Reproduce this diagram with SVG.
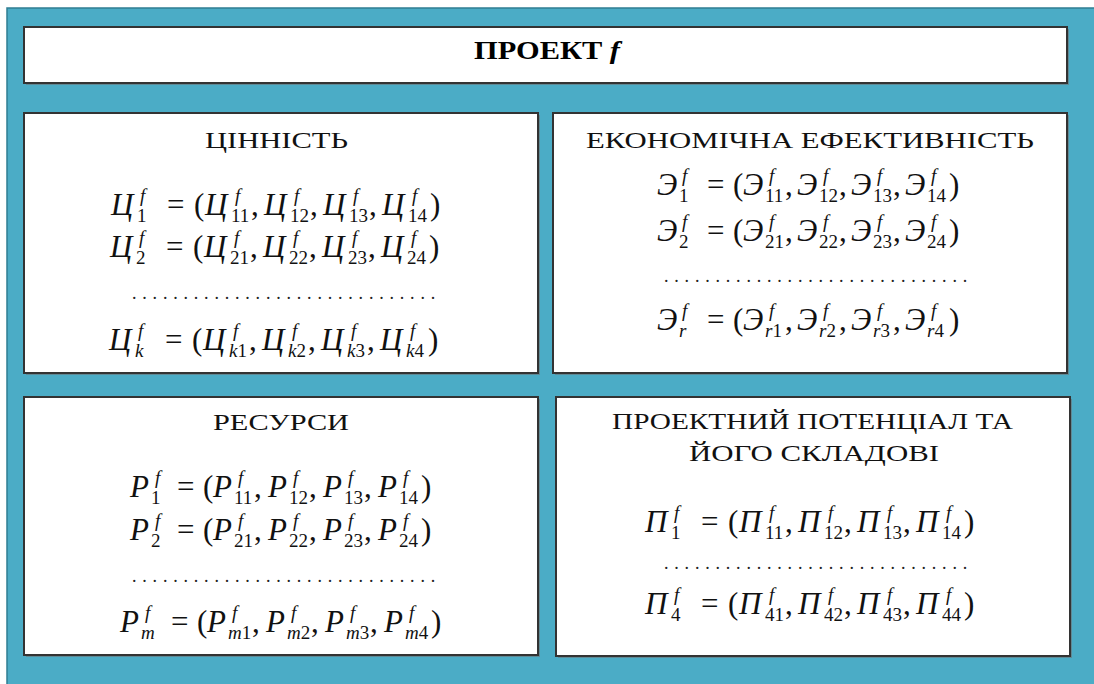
<svg xmlns="http://www.w3.org/2000/svg" width="1094" height="684" viewBox="0 0 1094 684">
<style>
.box{fill:#ffffff;stroke:#333333;stroke-width:2}
.shd{fill:#6f6f6f;opacity:0.55}
.hd{font-family:"Liberation Serif","Times New Roman",serif;font-size:23px;fill:#111}
.ttl{font-family:"Liberation Serif","Times New Roman",serif;font-size:26px;font-weight:bold;fill:#000}
.m{font-family:"Liberation Serif","Times New Roman",serif;font-size:31px;fill:#111}
.i{font-style:italic}
.sb{font-size:19px}
.sp{font-size:19px;font-style:italic}
.dots{font-family:"Liberation Serif","Times New Roman",serif;font-size:18px;letter-spacing:5.8px;fill:#222}
</style>
<rect x="0" y="0" width="1094" height="684" fill="#ffffff"/>
<rect x="7" y="8" width="1092" height="682" fill="#4bacc6" stroke="#2f7d92" stroke-width="1.5"/>

<g id="node-title">
<rect class="shd" x="26" y="29" width="1043" height="56"/>
<rect class="box" x="24" y="27" width="1043" height="56"/>
<text class="ttl" x="474" y="59" textLength="146" lengthAdjust="spacingAndGlyphs">ПРОЕКТ <tspan font-style="italic">f</tspan></text>
</g>

<g id="node-value">
<rect class="shd" x="26" y="115" width="514" height="260"/>
<rect class="box" x="24" y="113" width="514" height="260"/>
<text class="hd" x="205" y="148" textLength="143" lengthAdjust="spacingAndGlyphs">ЦІННІСТЬ</text>
<g transform="translate(111,215)"><text class="m"><tspan class="i" x="0" y="0">Ц</tspan><tspan class="sb" x="26" y="7">1</tspan><tspan class="sp" x="29" y="-13">f</tspan><tspan x="56" y="0">=</tspan><tspan x="83" y="0">(</tspan><tspan class="i" x="94" y="0">Ц</tspan><tspan class="sb" x="120" y="7">11</tspan><tspan class="sp" x="124" y="-13">f</tspan><tspan x="140" y="0">,</tspan><tspan class="i" x="153" y="0">Ц</tspan><tspan class="sb" x="179" y="7">12</tspan><tspan class="sp" x="183" y="-13">f</tspan><tspan x="199" y="0">,</tspan><tspan class="i" x="212" y="0">Ц</tspan><tspan class="sb" x="238" y="7">13</tspan><tspan class="sp" x="242" y="-13">f</tspan><tspan x="258" y="0">,</tspan><tspan class="i" x="271" y="0">Ц</tspan><tspan class="sb" x="297" y="7">14</tspan><tspan class="sp" x="301" y="-13">f</tspan><tspan x="319" y="0">)</tspan></text></g>
<g transform="translate(110,257)"><text class="m"><tspan class="i" x="0" y="0">Ц</tspan><tspan class="sb" x="26" y="7">2</tspan><tspan class="sp" x="29" y="-13">f</tspan><tspan x="56" y="0">=</tspan><tspan x="83" y="0">(</tspan><tspan class="i" x="94" y="0">Ц</tspan><tspan class="sb" x="120" y="7">21</tspan><tspan class="sp" x="124" y="-13">f</tspan><tspan x="140" y="0">,</tspan><tspan class="i" x="153" y="0">Ц</tspan><tspan class="sb" x="179" y="7">22</tspan><tspan class="sp" x="183" y="-13">f</tspan><tspan x="199" y="0">,</tspan><tspan class="i" x="212" y="0">Ц</tspan><tspan class="sb" x="238" y="7">23</tspan><tspan class="sp" x="242" y="-13">f</tspan><tspan x="258" y="0">,</tspan><tspan class="i" x="271" y="0">Ц</tspan><tspan class="sb" x="297" y="7">24</tspan><tspan class="sp" x="301" y="-13">f</tspan><tspan x="319" y="0">)</tspan></text></g>
<text class="dots" x="132" y="299">..............................</text>
<g transform="translate(109,350)"><text class="m"><tspan class="i" x="0" y="0">Ц</tspan><tspan class="sb i" x="26" y="7">k</tspan><tspan class="sp" x="29" y="-13">f</tspan><tspan x="56" y="0">=</tspan><tspan x="83" y="0">(</tspan><tspan class="i" x="94" y="0">Ц</tspan><tspan class="sb" x="120" y="7"><tspan class="i">k</tspan>1</tspan><tspan class="sp" x="124" y="-13">f</tspan><tspan x="140" y="0">,</tspan><tspan class="i" x="153" y="0">Ц</tspan><tspan class="sb" x="179" y="7"><tspan class="i">k</tspan>2</tspan><tspan class="sp" x="183" y="-13">f</tspan><tspan x="199" y="0">,</tspan><tspan class="i" x="212" y="0">Ц</tspan><tspan class="sb" x="238" y="7"><tspan class="i">k</tspan>3</tspan><tspan class="sp" x="242" y="-13">f</tspan><tspan x="258" y="0">,</tspan><tspan class="i" x="271" y="0">Ц</tspan><tspan class="sb" x="297" y="7"><tspan class="i">k</tspan>4</tspan><tspan class="sp" x="301" y="-13">f</tspan><tspan x="319" y="0">)</tspan></text></g>
</g>

<g id="node-efficiency">
<rect class="shd" x="555" y="115" width="514" height="260"/>
<rect class="box" x="553" y="113" width="514" height="260"/>
<text class="hd" x="586" y="148" textLength="448" lengthAdjust="spacingAndGlyphs">ЕКОНОМІЧНА ЕФЕКТИВНІСТЬ</text>
<g transform="translate(657,195)"><text class="m"><tspan class="i" x="0" y="0">Э</tspan><tspan class="sb" x="22" y="7">1</tspan><tspan class="sp" x="25" y="-13">f</tspan><tspan x="50" y="0">=</tspan><tspan x="76" y="0">(</tspan><tspan class="i" x="86" y="0">Э</tspan><tspan class="sb" x="108" y="7">11</tspan><tspan class="sp" x="112" y="-13">f</tspan><tspan x="128" y="0">,</tspan><tspan class="i" x="140" y="0">Э</tspan><tspan class="sb" x="162" y="7">12</tspan><tspan class="sp" x="166" y="-13">f</tspan><tspan x="182" y="0">,</tspan><tspan class="i" x="194" y="0">Э</tspan><tspan class="sb" x="216" y="7">13</tspan><tspan class="sp" x="220" y="-13">f</tspan><tspan x="236" y="0">,</tspan><tspan class="i" x="248" y="0">Э</tspan><tspan class="sb" x="270" y="7">14</tspan><tspan class="sp" x="274" y="-13">f</tspan><tspan x="292" y="0">)</tspan></text></g>
<g transform="translate(657,241)"><text class="m"><tspan class="i" x="0" y="0">Э</tspan><tspan class="sb" x="22" y="7">2</tspan><tspan class="sp" x="25" y="-13">f</tspan><tspan x="50" y="0">=</tspan><tspan x="76" y="0">(</tspan><tspan class="i" x="86" y="0">Э</tspan><tspan class="sb" x="108" y="7">21</tspan><tspan class="sp" x="112" y="-13">f</tspan><tspan x="128" y="0">,</tspan><tspan class="i" x="140" y="0">Э</tspan><tspan class="sb" x="162" y="7">22</tspan><tspan class="sp" x="166" y="-13">f</tspan><tspan x="182" y="0">,</tspan><tspan class="i" x="194" y="0">Э</tspan><tspan class="sb" x="216" y="7">23</tspan><tspan class="sp" x="220" y="-13">f</tspan><tspan x="236" y="0">,</tspan><tspan class="i" x="248" y="0">Э</tspan><tspan class="sb" x="270" y="7">24</tspan><tspan class="sp" x="274" y="-13">f</tspan><tspan x="292" y="0">)</tspan></text></g>
<text class="dots" x="664" y="282">..............................</text>
<g transform="translate(657,330)"><text class="m"><tspan class="i" x="0" y="0">Э</tspan><tspan class="sb i" x="22" y="7">r</tspan><tspan class="sp" x="25" y="-13">f</tspan><tspan x="50" y="0">=</tspan><tspan x="76" y="0">(</tspan><tspan class="i" x="86" y="0">Э</tspan><tspan class="sb" x="108" y="7"><tspan class="i">r</tspan>1</tspan><tspan class="sp" x="112" y="-13">f</tspan><tspan x="128" y="0">,</tspan><tspan class="i" x="140" y="0">Э</tspan><tspan class="sb" x="162" y="7"><tspan class="i">r</tspan>2</tspan><tspan class="sp" x="166" y="-13">f</tspan><tspan x="182" y="0">,</tspan><tspan class="i" x="194" y="0">Э</tspan><tspan class="sb" x="216" y="7"><tspan class="i">r</tspan>3</tspan><tspan class="sp" x="220" y="-13">f</tspan><tspan x="236" y="0">,</tspan><tspan class="i" x="248" y="0">Э</tspan><tspan class="sb" x="270" y="7"><tspan class="i">r</tspan>4</tspan><tspan class="sp" x="274" y="-13">f</tspan><tspan x="292" y="0">)</tspan></text></g>
</g>

<g id="node-resources">
<rect class="shd" x="26" y="399" width="514" height="258"/>
<rect class="box" x="24" y="397" width="514" height="258"/>
<text class="hd" x="213" y="430" textLength="136" lengthAdjust="spacingAndGlyphs">РЕСУРСИ</text>
<g transform="translate(130,497)"><text class="m"><tspan class="i" x="0" y="0">P</tspan><tspan class="sb" x="21" y="7">1</tspan><tspan class="sp" x="25" y="-13">f</tspan><tspan x="47" y="0">=</tspan><tspan x="73" y="0">(</tspan><tspan class="i" x="83" y="0">P</tspan><tspan class="sb" x="104" y="7">11</tspan><tspan class="sp" x="108" y="-13">f</tspan><tspan x="124" y="0">,</tspan><tspan class="i" x="138" y="0">P</tspan><tspan class="sb" x="159" y="7">12</tspan><tspan class="sp" x="163" y="-13">f</tspan><tspan x="179" y="0">,</tspan><tspan class="i" x="193" y="0">P</tspan><tspan class="sb" x="214" y="7">13</tspan><tspan class="sp" x="218" y="-13">f</tspan><tspan x="234" y="0">,</tspan><tspan class="i" x="248" y="0">P</tspan><tspan class="sb" x="269" y="7">14</tspan><tspan class="sp" x="273" y="-13">f</tspan><tspan x="291" y="0">)</tspan></text></g>
<g transform="translate(130,540)"><text class="m"><tspan class="i" x="0" y="0">P</tspan><tspan class="sb" x="21" y="7">2</tspan><tspan class="sp" x="25" y="-13">f</tspan><tspan x="47" y="0">=</tspan><tspan x="73" y="0">(</tspan><tspan class="i" x="83" y="0">P</tspan><tspan class="sb" x="104" y="7">21</tspan><tspan class="sp" x="108" y="-13">f</tspan><tspan x="124" y="0">,</tspan><tspan class="i" x="138" y="0">P</tspan><tspan class="sb" x="159" y="7">22</tspan><tspan class="sp" x="163" y="-13">f</tspan><tspan x="179" y="0">,</tspan><tspan class="i" x="193" y="0">P</tspan><tspan class="sb" x="214" y="7">23</tspan><tspan class="sp" x="218" y="-13">f</tspan><tspan x="234" y="0">,</tspan><tspan class="i" x="248" y="0">P</tspan><tspan class="sb" x="269" y="7">24</tspan><tspan class="sp" x="273" y="-13">f</tspan><tspan x="291" y="0">)</tspan></text></g>
<text class="dots" x="132" y="582">..............................</text>
<g transform="translate(120,632)"><text class="m"><tspan class="i" x="0" y="0">P</tspan><tspan class="sb i" x="21" y="7">m</tspan><tspan class="sp" x="25" y="-13">f</tspan><tspan x="51" y="0">=</tspan><tspan x="77" y="0">(</tspan><tspan class="i" x="87" y="0">P</tspan><tspan class="sb" x="108" y="7"><tspan class="i">m</tspan>1</tspan><tspan class="sp" x="112" y="-13">f</tspan><tspan x="132" y="0">,</tspan><tspan class="i" x="146" y="0">P</tspan><tspan class="sb" x="167" y="7"><tspan class="i">m</tspan>2</tspan><tspan class="sp" x="171" y="-13">f</tspan><tspan x="191" y="0">,</tspan><tspan class="i" x="205" y="0">P</tspan><tspan class="sb" x="226" y="7"><tspan class="i">m</tspan>3</tspan><tspan class="sp" x="230" y="-13">f</tspan><tspan x="250" y="0">,</tspan><tspan class="i" x="264" y="0">P</tspan><tspan class="sb" x="285" y="7"><tspan class="i">m</tspan>4</tspan><tspan class="sp" x="289" y="-13">f</tspan><tspan x="311" y="0">)</tspan></text></g>
</g>

<g id="node-potential">
<rect class="shd" x="558" y="399" width="514" height="259"/>
<rect class="box" x="556" y="397" width="514" height="259"/>
<text class="hd" x="612" y="429" textLength="401" lengthAdjust="spacingAndGlyphs">ПРОЕКТНИЙ ПОТЕНЦІАЛ ТА</text>
<text class="hd" x="689" y="461" textLength="250" lengthAdjust="spacingAndGlyphs">ЙОГО СКЛАДОВІ</text>
<g transform="translate(645,532)"><text class="m"><tspan class="i" x="0" y="0">П</tspan><tspan class="sb" x="26" y="7">1</tspan><tspan class="sp" x="29" y="-13">f</tspan><tspan x="56" y="0">=</tspan><tspan x="83" y="0">(</tspan><tspan class="i" x="94" y="0">П</tspan><tspan class="sb" x="120" y="7">11</tspan><tspan class="sp" x="124" y="-13">f</tspan><tspan x="140" y="0">,</tspan><tspan class="i" x="153" y="0">П</tspan><tspan class="sb" x="179" y="7">12</tspan><tspan class="sp" x="183" y="-13">f</tspan><tspan x="199" y="0">,</tspan><tspan class="i" x="212" y="0">П</tspan><tspan class="sb" x="238" y="7">13</tspan><tspan class="sp" x="242" y="-13">f</tspan><tspan x="258" y="0">,</tspan><tspan class="i" x="271" y="0">П</tspan><tspan class="sb" x="297" y="7">14</tspan><tspan class="sp" x="301" y="-13">f</tspan><tspan x="319" y="0">)</tspan></text></g>
<text class="dots" x="664" y="569">..............................</text>
<g transform="translate(645,614)"><text class="m"><tspan class="i" x="0" y="0">П</tspan><tspan class="sb" x="26" y="7">4</tspan><tspan class="sp" x="29" y="-13">f</tspan><tspan x="56" y="0">=</tspan><tspan x="83" y="0">(</tspan><tspan class="i" x="94" y="0">П</tspan><tspan class="sb" x="120" y="7">41</tspan><tspan class="sp" x="124" y="-13">f</tspan><tspan x="140" y="0">,</tspan><tspan class="i" x="153" y="0">П</tspan><tspan class="sb" x="179" y="7">42</tspan><tspan class="sp" x="183" y="-13">f</tspan><tspan x="199" y="0">,</tspan><tspan class="i" x="212" y="0">П</tspan><tspan class="sb" x="238" y="7">43</tspan><tspan class="sp" x="242" y="-13">f</tspan><tspan x="258" y="0">,</tspan><tspan class="i" x="271" y="0">П</tspan><tspan class="sb" x="297" y="7">44</tspan><tspan class="sp" x="301" y="-13">f</tspan><tspan x="319" y="0">)</tspan></text></g>
</g>

<g id="connectors"/>
</svg>
